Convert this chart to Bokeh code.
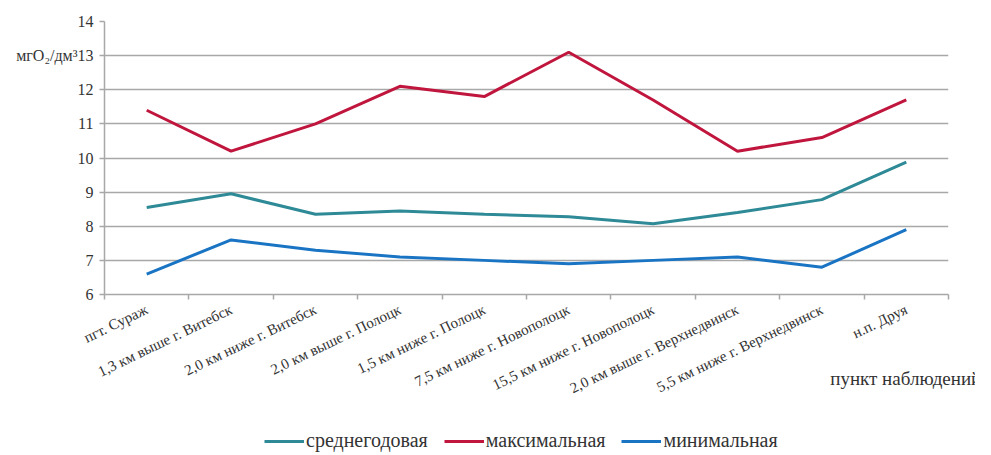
from bokeh.plotting import figure
from bokeh.layouts import column
from bokeh.models import Range1d, FixedTicker, Legend, LegendItem, ColumnDataSource
from bokeh.embed import file_html
from bokeh.resources import INLINE

categories = ["пгт. Сураж", "1,3 км выше г. Витебск", "2,0 км ниже г. Витебск",
              "2,0 км выше г. Полоцк", "1,5 км ниже г. Полоцк", "7,5 км ниже г. Новополоцк",
              "15,5 км ниже г. Новополоцк", "2,0 км выше г. Верхнедвинск",
              "5,5 км ниже г. Верхнедвинск", "н.п. Друя"]
mean_vals = [8.55, 8.95, 8.35, 8.45, 8.35, 8.28, 8.07, 8.4, 8.78, 9.88]
max_vals = [11.4, 10.2, 11.0, 12.1, 11.8, 13.1, 11.7, 10.2, 10.6, 11.7]
min_vals = [6.6, 7.6, 7.3, 7.1, 7.0, 6.9, 7.0, 7.1, 6.8, 7.9]
series_names = ["среднегодовая", "максимальная", "минимальная"]
y_ticks = [6, 7, 8, 9, 10, 11, 12, 13, 14]
y_title = "мгО₂/дм³"
x_title = "пункт наблюдений"

colors = ["#2E8A96", "#C0163E", "#1A74C4"]
FONT = "Liberation Serif"

n = len(categories)
xs = [i + 0.5 for i in range(n)]
series = [mean_vals, max_vals, min_vals]

p = figure(width=975, height=416, output_backend="svg", toolbar_location=None,
           x_range=Range1d(0, n), y_range=Range1d(6, 14),
           min_border_left=104, min_border_right=27, min_border_top=21, min_border_bottom=122)
p.outline_line_color = None
p.xgrid.grid_line_color = None
p.ygrid.grid_line_color = "#A8A8A8"
p.ygrid.grid_line_width = 1.5
p.ygrid.ticker = FixedTicker(ticks=y_ticks)

# x axis
xax = p.xaxis[0]
xax.ticker = FixedTicker(ticks=xs, minor_ticks=list(range(n + 1)))
xax.major_label_overrides = {x: c for x, c in zip(xs, categories)}
xax.major_tick_line_color = None
xax.minor_tick_line_color = "#A8A8A8"
xax.minor_tick_out = 5
xax.minor_tick_in = 0
xax.minor_tick_line_width = 1.5
xax.axis_line_color = "#A8A8A8"
xax.axis_line_width = 1.5
xax.major_label_orientation = 0.45
xax.major_label_text_font = FONT
xax.major_label_text_font_size = "15px"
xax.major_label_text_color = "#333333"
xax.major_label_standoff = 8

# axis title sits at the right end; trailing no-break spaces pull the centred text left
xax.axis_label = x_title + "\u00a0" * 18
xax.axis_label_align = "end"
xax.axis_label_standoff = -38
xax.axis_label_text_font = FONT
xax.axis_label_text_font_size = "19px"
xax.axis_label_text_font_style = "normal"
xax.axis_label_text_color = "#333333"

# y axis (the unit title sits next to the "13" tick label, as in the reference)
p.yaxis.ticker = FixedTicker(ticks=y_ticks)
p.yaxis.major_label_overrides = {13: y_title + "13"}
p.yaxis.axis_line_color = "#A8A8A8"
p.yaxis.axis_line_width = 1.5
p.yaxis.major_tick_line_color = "#A8A8A8"
p.yaxis.major_tick_line_width = 1.5
p.yaxis.major_tick_out = 5
p.yaxis.major_tick_in = 0
p.yaxis.minor_tick_line_color = None
p.yaxis.major_label_text_font = FONT
p.yaxis.major_label_text_font_size = "16px"
p.yaxis.major_label_text_color = "#333333"
p.yaxis.major_label_standoff = 6

for vals, col in zip(series, colors):
    src = ColumnDataSource(dict(x=xs, y=vals))
    p.line("x", "y", source=src, line_color=col, line_width=3)

# legend strip below the chart (its lines lie outside the strip's visible range)
lg = figure(width=975, height=38, output_backend="svg", toolbar_location=None,
            x_range=Range1d(0, n), y_range=Range1d(100, 101),
            min_border_left=0, min_border_right=0, min_border_top=0, min_border_bottom=0)
lg.axis.visible = False
lg.grid.visible = False
lg.outline_line_color = None
lrs = [lg.line(xs, vals, line_color=col, line_width=3) for vals, col in zip(series, colors)]
legend = Legend(items=[LegendItem(label=nm, renderers=[r]) for nm, r in zip(series_names, lrs)],
                orientation="horizontal", location=(160, 2),
                padding=0, margin=0, spacing=16, label_standoff=2,
                glyph_width=40, glyph_height=20,
                border_line_color=None, background_fill_alpha=0,
                label_text_font=FONT, label_text_font_size="20px", label_text_color="#333333")
lg.add_layout(legend, "center")

layout = column(p, lg, spacing=0)
open("out.html", "w").write(file_html(layout, INLINE))
